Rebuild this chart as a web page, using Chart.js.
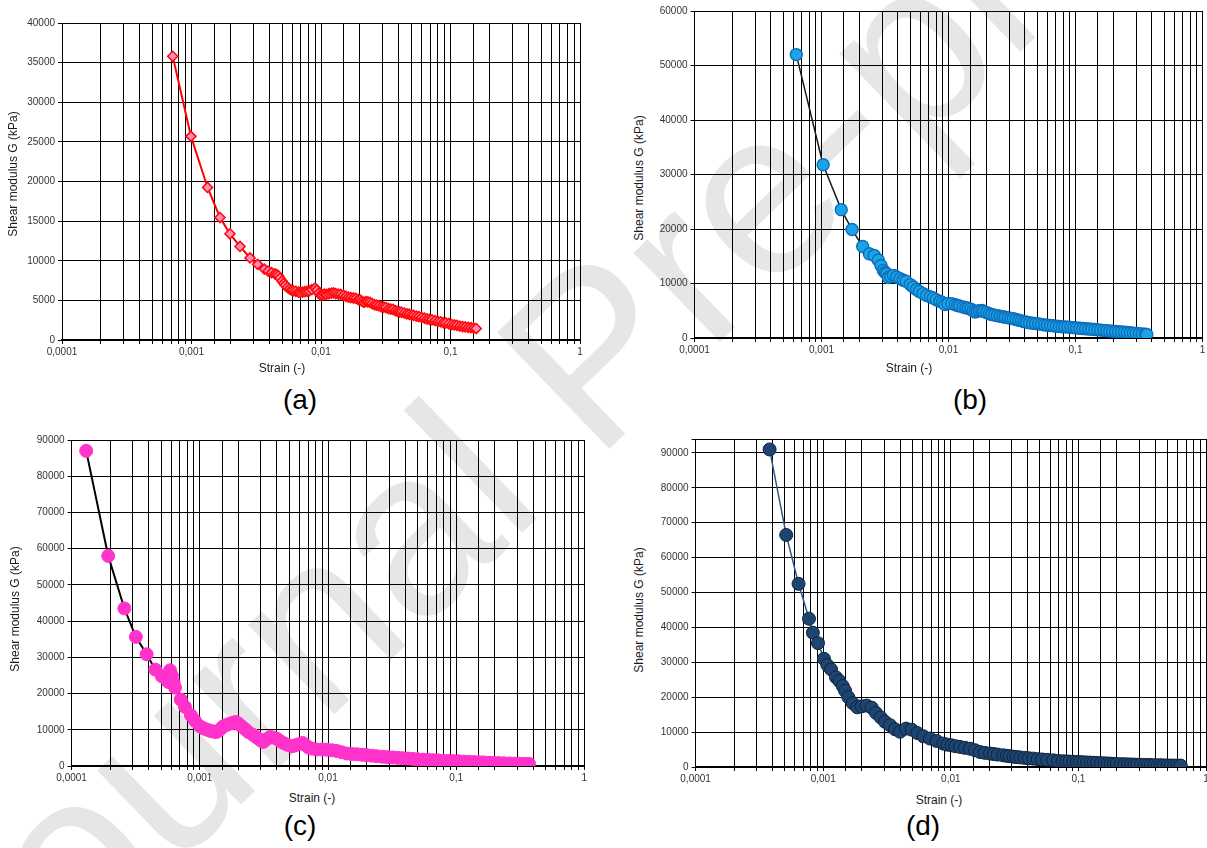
<!DOCTYPE html>
<html><head><meta charset="utf-8">
<script src="https://cdn.jsdelivr.net/npm/chart.js@4.4.1/dist/chart.umd.min.js"></script>
<style>
html,body{margin:0;padding:0;background:#fff;width:1207px;height:848px;overflow:hidden;position:relative;font-family:"Liberation Sans",Arial,sans-serif;}
canvas{position:absolute;}
.t{position:absolute;white-space:nowrap;color:#1a1a1a;transform:translate(-50%,-50%);line-height:1;}
.ty{transform:translate(-50%,-50%) rotate(-90deg);}
.ax{font-size:12px;}
.cap{font-size:28px;color:#000;}
#wm{position:absolute;left:0;top:0;}
</style></head><body>
<svg id="wm" width="1207" height="848"><text x="-6" y="1043" font-size="235" font-family="Liberation Sans, Arial, sans-serif" fill="#e6e6e6" transform="rotate(-44 -6 1043)">Journal Pre-proof</text></svg>
<canvas id="ca"></canvas><canvas id="cb"></canvas><canvas id="cc"></canvas><canvas id="cd"></canvas>
<div class="t ty ax" style="left:13px;top:174px">Shear modulus G (kPa)</div>
<div class="t ty ax" style="left:639px;top:178px">Shear modulus G (kPa)</div>
<div class="t ty ax" style="left:15px;top:609px">Shear modulus G (kPa)</div>
<div class="t ty ax" style="left:639px;top:610px">Shear modulus G (kPa)</div>
<div class="t ax" style="left:282px;top:368px">Strain (-)</div>
<div class="t ax" style="left:909px;top:368px">Strain (-)</div>
<div class="t ax" style="left:312px;top:798px">Strain (-)</div>
<div class="t ax" style="left:939px;top:800px">Strain (-)</div>
<div class="t cap" style="left:300px;top:400px">(a)</div>
<div class="t cap" style="left:970px;top:400px">(b)</div>
<div class="t cap" style="left:300px;top:826px">(c)</div>
<div class="t cap" style="left:923px;top:826px">(d)</div>
<script>
// ---- tick labels ----
const xTickValues = [0.0001, 0.001, 0.01, 0.1, 1];
const xTickLabels = ['0,0001', '0,001', '0,01', '0,1', '1'];
const yTicksA = [0, 5000, 10000, 15000, 20000, 25000, 30000, 35000, 40000];
const yTicksB = [0, 10000, 20000, 30000, 40000, 50000, 60000];
const yTicksC = [0, 10000, 20000, 30000, 40000, 50000, 60000, 70000, 80000, 90000];
const yTicksD = [0, 10000, 20000, 30000, 40000, 50000, 60000, 70000, 80000, 90000, 94000];

// ---- series (a) ----
const strainA = [0.000716,0.00099,0.00133,0.00166,0.00198,0.00237,0.00283,0.00324,0.00365,0.0039,0.00416,0.0044,0.00455,0.0047,0.00482,0.005,0.00515,0.0053,0.0055,0.0057,0.0059,0.0061,0.0064,0.0067,0.0069,0.0072,0.0075,0.0078,0.0081,0.0085,0.009,0.0093,0.0096,0.0099,0.0102,0.0106,0.011,0.0115,0.012,0.0125,0.013,0.0136,0.0142,0.0149,0.0156,0.0163,0.017,0.0178,0.0186,0.0194,0.02,0.0207,0.0214,0.0222,0.023,0.0239,0.0248,0.0258,0.0268,0.028,0.0292,0.0305,0.0318,0.0332,0.0346,0.036,0.0375,0.039,0.0405,0.042,0.044,0.046,0.048,0.05,0.052,0.0545,0.057,0.06,0.063,0.066,0.069,0.072,0.076,0.08,0.084,0.088,0.092,0.097,0.102,0.107,0.112,0.118,0.124,0.13,0.137,0.144,0.151,0.158];
const modulusA = [35800,25700,19250,15450,13400,11800,10350,9550,8950,8700,8500,8350,8250,8100,7800,7450,7150,6900,6650,6450,6300,6200,6150,6050,6000,6050,6100,6150,6200,6350,6550,6300,5900,5650,5700,5800,5750,5850,5900,5950,5850,5800,5750,5650,5500,5400,5350,5300,5250,5100,5050,4900,4750,4850,4800,4750,4600,4450,4400,4300,4200,4150,4100,3950,3900,3850,3700,3600,3550,3500,3400,3300,3250,3150,3100,3000,2950,2850,2750,2650,2600,2550,2450,2350,2300,2200,2150,2050,1950,1900,1850,1750,1700,1650,1600,1550,1500,1450];

// ---- series (b) ----
const strainB = [0.000633,0.00103,0.00143,0.00174,0.00211,0.00238,0.0026,0.0028,0.00294,0.00307,0.00317,0.00326,0.00336,0.0035,0.00368,0.0039,0.00415,0.0044,0.00463,0.005,0.00528,0.0056,0.00589,0.0063,0.00673,0.0072,0.00759,0.008,0.00857,0.009,0.00938,0.0099,0.0106,0.0113,0.0118,0.0123,0.013,0.0137,0.0143,0.015,0.0156,0.0162,0.0168,0.0175,0.0183,0.019,0.02,0.021,0.0219,0.023,0.0242,0.0255,0.0268,0.028,0.0295,0.031,0.0324,0.034,0.0358,0.0376,0.0395,0.0413,0.0435,0.046,0.0485,0.0512,0.054,0.057,0.06,0.0635,0.0668,0.0705,0.0745,0.0785,0.0825,0.087,0.092,0.097,0.102,0.108,0.114,0.12,0.127,0.134,0.142,0.15,0.158,0.167,0.176,0.186,0.196,0.207,0.218,0.23,0.243,0.256,0.27,0.285,0.3,0.318,0.335,0.355,0.364];
const modulusB = [52000,31800,23550,19900,16800,15450,15150,14300,13300,12400,12000,11800,11100,11300,11500,11200,10900,10600,10400,9800,9350,8900,8550,8150,7800,7550,7350,7000,6750,6500,6150,6350,6300,6100,5950,5850,5700,5550,5450,5300,5000,4750,4900,5000,5050,4850,4650,4450,4300,4200,4100,4000,3900,3800,3700,3600,3550,3400,3250,3150,3000,2900,2800,2700,2650,2600,2500,2400,2350,2300,2250,2150,2100,2050,2050,2000,1950,1900,1850,1800,1750,1700,1650,1600,1550,1500,1450,1400,1350,1300,1250,1200,1150,1100,1050,1000,950,900,850,800,750,700,650];

// ---- series (c) ----
const strainC = [0.00013,0.000193,0.000258,0.000317,0.000385,0.00045,0.000505,0.000545,0.000568,0.000586,0.000605,0.000625,0.000641,0.00071,0.000767,0.000853,0.000918,0.001004,0.00107,0.00113,0.00119,0.00124,0.0013,0.001355,0.00142,0.00148,0.001525,0.00162,0.00172,0.00182,0.001915,0.002,0.00212,0.00225,0.00239,0.0026,0.00278,0.00295,0.003126,0.0033,0.00353,0.0037,0.00398,0.0042,0.00449,0.0048,0.00521,0.0055,0.00587,0.00635,0.0067,0.00703,0.0075,0.00816,0.009,0.00977,0.0107,0.0117,0.0128,0.014,0.0153,0.0168,0.0185,0.02,0.022,0.024,0.0267,0.029,0.032,0.035,0.038,0.042,0.046,0.05,0.055,0.06,0.066,0.072,0.079,0.087,0.095,0.104,0.114,0.125,0.137,0.15,0.164,0.18,0.197,0.215,0.235,0.26,0.285,0.31,0.34,0.37];
const modulusC = [87000,58000,43500,35650,30850,26600,24800,24150,23200,26400,25000,23000,21650,18350,16300,14000,12450,10950,10400,10050,9800,9600,9450,9400,9900,10500,10950,11350,11700,11950,12150,11700,10950,10200,9400,8600,7850,7200,6650,7300,8000,7900,7550,6950,6350,5900,5450,5650,6000,6350,5750,5100,4800,4550,4550,4500,4350,4150,3800,3450,3300,3250,3100,3000,2850,2700,2550,2450,2350,2250,2150,2050,1950,1850,1750,1700,1600,1550,1450,1400,1350,1300,1200,1150,1100,1050,1000,900,850,800,750,700,650,650,600,600];

// ---- series (d) ----
const strainD = [0.00038,0.000513,0.000641,0.000774,0.00083,0.00091,0.001014,0.001077,0.001151,0.00126,0.001337,0.001422,0.001483,0.001574,0.001703,0.00185,0.002003,0.002193,0.002399,0.002593,0.002825,0.00305,0.00334,0.003656,0.004,0.004457,0.004939,0.005462,0.006095,0.006874,0.007748,0.00873,0.0094,0.01016,0.0109,0.01181,0.0129,0.01414,0.0155,0.01693,0.0185,0.02029,0.0218,0.0233,0.02578,0.0275,0.029,0.031,0.03281,0.035,0.038,0.041,0.04436,0.048,0.052,0.057,0.06357,0.069,0.075,0.08,0.085,0.091,0.097,0.103,0.11,0.117,0.125,0.132,0.14,0.15,0.16,0.17,0.18,0.19,0.2,0.215,0.23,0.245,0.26,0.275,0.29,0.31,0.33,0.35,0.37,0.395,0.42,0.445,0.47,0.5,0.53,0.565,0.6,0.634];
const modulusD = [91000,66500,52500,42500,38500,35500,31000,29200,28000,25700,24700,23200,21900,20000,18300,17100,17400,17600,17000,15500,14200,12950,12000,10800,10100,11000,10700,9750,8800,8150,7450,6700,6400,6200,5950,5750,5500,5250,4800,4300,4050,3850,3700,3550,3350,3200,3100,2950,2850,2750,2600,2500,2400,2250,2150,2050,1900,1750,1650,1600,1550,1500,1450,1400,1350,1300,1250,1200,1150,1100,1050,1000,950,900,850,820,800,750,700,680,650,620,600,580,550,520,500,480,450,440,420,410,400,400];

// ---- layout (plot area pixel boxes) ----
const FONT = '"Liberation Sans", Arial, sans-serif';
const panels = {
  ca: {left: 62, right: 580, top: 23, bottom: 339.5, ymax: 40000, yt: yTicksA},
  cb: {left: 694.5, right: 1202.5, top: 11, bottom: 337.5, ymax: 60000, yt: yTicksB},
  cc: {left: 71.6, right: 584.4, top: 440, bottom: 765.7, ymax: 90000, yt: yTicksC},
  cd: {left: 695.6, right: 1206, top: 439, bottom: 766.7, ymax: 94000, yt: yTicksD}
};
const styles = {
  ca: {line: '#ff0000', lw: 2, ps: 'rectRot', r: 5, fill: '#ff8fc0', border: '#ff0a0a', bw: 1.6},
  cb: {line: '#1a1a1a', lw: 1.5, ps: 'circle', r: 6, fill: '#1da2e6', border: '#0a6fbc', bw: 1.4},
  cc: {line: '#000000', lw: 2, ps: 'circle', r: 6.5, fill: '#ff33cc', border: '#ff33cc', bw: 1},
  cd: {line: '#2a5a8c', lw: 1.5, ps: 'circle', r: 6.5, fill: '#1e4470', border: '#10243f', bw: 1}
};
const seriesData = {ca: [strainA, modulusA], cb: [strainB, modulusB], cc: [strainC, modulusC], cd: [strainD, modulusD]};

function xLabel(v) {
  for (let i = 0; i < xTickValues.length; i++) {
    if (Math.abs(v - xTickValues[i]) / xTickValues[i] < 1e-6) return xTickLabels[i];
  }
  return '';
}

function makeChart(id) {
  const p = panels[id], st = styles[id], [xs, ys] = seriesData[id];
  const W = 45, H = 25, PT = 10, PR = 10;
  const left = Math.round(p.left - W), top = Math.round(p.top - PT);
  const padL = p.left - W - left, padT = p.top - top;
  const width = Math.round(p.right + PR - left), height = Math.round(p.bottom + H - top);
  const cv = document.getElementById(id);
  cv.width = width; cv.height = height;
  cv.style.width = width + 'px'; cv.style.height = height + 'px';
  cv.style.left = left + 'px'; cv.style.top = top + 'px';
  const yt = p.yt;
  new Chart(cv, {
    type: 'line',
    data: {datasets: [{
      data: xs.map((x, i) => ({x: x, y: ys[i]})),
      borderColor: st.line, borderWidth: st.lw, tension: 0, fill: false,
      pointStyle: st.ps, pointRadius: st.r, pointBackgroundColor: st.fill,
      pointBorderColor: st.border, pointBorderWidth: st.bw
    }]},
    options: {
      responsive: false, animation: false, devicePixelRatio: 1,
      layout: {padding: {left: padL, top: padT, right: width - (p.right - left), bottom: 0}},
      plugins: {legend: {display: false}, tooltip: {enabled: false}},
      scales: {
        x: {
          type: 'logarithmic', min: 0.0001, max: 1,
          afterFit: s => { s.height = H; },
          ticks: {autoSkip: false, maxRotation: 0, minRotation: 0, padding: 2, color: '#333',
            font: {size: 10, family: FONT}, callback: v => xLabel(v)},
          grid: {color: '#000', lineWidth: 1, tickLength: 4},
          border: {color: '#000', width: 2}
        },
        y: {
          type: 'linear', min: 0, max: p.ymax,
          afterBuildTicks: s => { s.ticks = yt.map(v => ({value: v})); },
          afterFit: s => { s.width = W; },
          ticks: {padding: 3, color: '#333', font: {size: 10, family: FONT},
            callback: v => (v === 94000 ? '' : String(v))},
          grid: {color: '#000', lineWidth: 1, tickLength: 4},
          border: {color: '#000', width: 1}
        }
      }
    }
  });
}
['ca', 'cb', 'cc', 'cd'].forEach(makeChart);
</script>
</body></html>
